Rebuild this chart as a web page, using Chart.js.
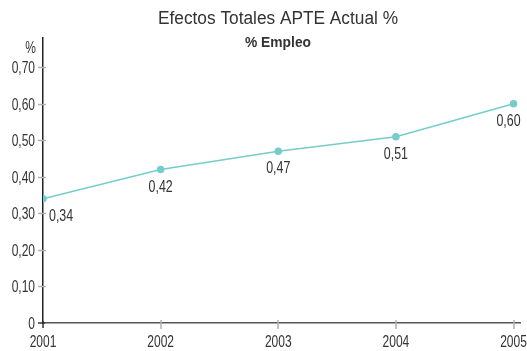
<!DOCTYPE html>
<html>
<head>
<meta charset="utf-8">
<script src="https://cdn.jsdelivr.net/npm/chart.js@4"></script>
<style>
  html, body { margin: 0; padding: 0; background: #fff; }
  #wrap { width: 527px; height: 351px; position: relative; }
</style>
</head>
<body>
<div id="wrap"><canvas id="c" width="527" height="351"></canvas></div>
<script>
const FONT = '"Liberation Sans", Arial, sans-serif';

const titleText = 'Efectos Totales APTE Actual %';
const subtitleText = '% Empleo';
const unitText = '%';

const years = [2001, 2002, 2003, 2004, 2005];
const empleo = [0.34, 0.42, 0.47, 0.51, 0.60];
const yTicks = [0, 0.1, 0.2, 0.3, 0.4, 0.5, 0.6, 0.7];

const fmt = v => v === 0 ? '0' : v.toFixed(2).replace('.', ',');

// Draws text in a horizontally condensed face (scaled along x only).
function condText(ctx, text, x, y, align, font, sx) {
  ctx.save();
  ctx.font = font;
  ctx.textAlign = align;
  ctx.textBaseline = 'alphabetic';
  ctx.translate(x, y);
  ctx.scale(sx, 1);
  ctx.fillText(text, 0, 0);
  ctx.restore();
}

// Same, but squeezed to a given overall width.
function fitText(ctx, text, cx, y, font, width) {
  ctx.save();
  ctx.font = font;
  const w = ctx.measureText(text).width;
  ctx.restore();
  condText(ctx, text, cx, y, 'center', font, width / w);
}

// Titles, unit label, axis labels, crossing tick marks and point value labels
const decorations = {
  id: 'decorations',
  afterDraw(chart) {
    const ctx = chart.ctx;
    const xs = chart.scales.x, ys = chart.scales.y;
    const ax = xs.left, ay = ys.bottom;
    ctx.save();

    // tick marks crossing the axis lines
    ctx.strokeStyle = '#b0b0b0';
    ctx.lineWidth = 1.5;
    yTicks.forEach(v => {
      if (v === 0) return;
      const py = Math.round(ys.getPixelForValue(v)) + 0.5;
      ctx.beginPath(); ctx.moveTo(ax - 5, py); ctx.lineTo(ax + 3, py); ctx.stroke();
    });
    years.forEach((yr, i) => {
      if (i === 0) return;
      const px = Math.round(xs.getPixelForValue(yr));
      ctx.beginPath(); ctx.moveTo(px, ay - 3); ctx.lineTo(px, ay + 6); ctx.stroke();
    });
    ctx.strokeStyle = '#333';
    ctx.beginPath(); ctx.moveTo(ax - 5, ay); ctx.lineTo(ax + 2, ay); ctx.stroke();
    ctx.beginPath(); ctx.moveTo(ax, ay - 2); ctx.lineTo(ax, ay + 5); ctx.stroke();

    ctx.fillStyle = '#333';

    // titles
    fitText(ctx, titleText, 278, 24, '18px ' + FONT, 240);
    fitText(ctx, subtitleText, 278, 46.5, 'bold 14px ' + FONT, 66);

    // unit label above the y axis
    condText(ctx, unitText, 36, 53, 'right', '16px ' + FONT, 0.75);

    // y tick labels
    yTicks.forEach(v => {
      condText(ctx, fmt(v), 35, ys.getPixelForValue(v) + 6, 'right', '16px ' + FONT, 0.75);
    });

    // x tick labels
    years.forEach(yr => {
      condText(ctx, String(yr), xs.getPixelForValue(yr), 346.5, 'center', '16px ' + FONT, 0.75);
    });

    // value labels under each point
    const meta = chart.getDatasetMeta(0);
    meta.data.forEach((pt, i) => {
      const last = i === meta.data.length - 1;
      let align = 'center', x = pt.x;
      if (i === 0) { align = 'left'; x = pt.x + 6; }
      else if (last) { align = 'right'; x = pt.x + 7; }
      condText(ctx, fmt(empleo[i]), x, pt.y + 22, align, '17px ' + FONT, 0.73);
    });
    ctx.restore();
  }
};

new Chart(document.getElementById('c'), {
  type: 'line',
  data: {
    datasets: [{
      data: years.map((y, i) => ({ x: y, y: empleo[i] })),
      borderColor: '#74cdca',
      backgroundColor: '#74cdca',
      borderWidth: 1.5,
      pointRadius: 3,
      pointHoverRadius: 3,
      tension: 0
    }]
  },
  options: {
    responsive: false,
    animation: false,
    events: [],
    layout: { padding: { left: 0, right: 7, top: 38, bottom: 0 } },
    plugins: {
      legend: { display: false },
      title: { display: false },
      tooltip: { enabled: false }
    },
    scales: {
      x: {
        type: 'linear',
        min: 2001,
        max: 2005.055,
        afterBuildTicks: s => { s.ticks = years.map(v => ({ value: v })); },
        afterFit: s => { s.height = 28; s.paddingLeft = 0; s.paddingRight = 0; },
        grid: { display: false, drawTicks: false },
        border: { display: true, color: '#555', width: 1.5 },
        ticks: { display: false }
      },
      y: {
        min: 0,
        max: 0.78,
        afterBuildTicks: s => { s.ticks = yTicks.map(v => ({ value: v })); },
        afterFit: s => { s.width = 43; s.paddingTop = 0; s.paddingBottom = 0; },
        grid: { display: false, drawTicks: false },
        border: { display: true, color: '#222', width: 1.5 },
        ticks: { display: false }
      }
    }
  },
  plugins: [decorations]
});
</script>
</body>
</html>
